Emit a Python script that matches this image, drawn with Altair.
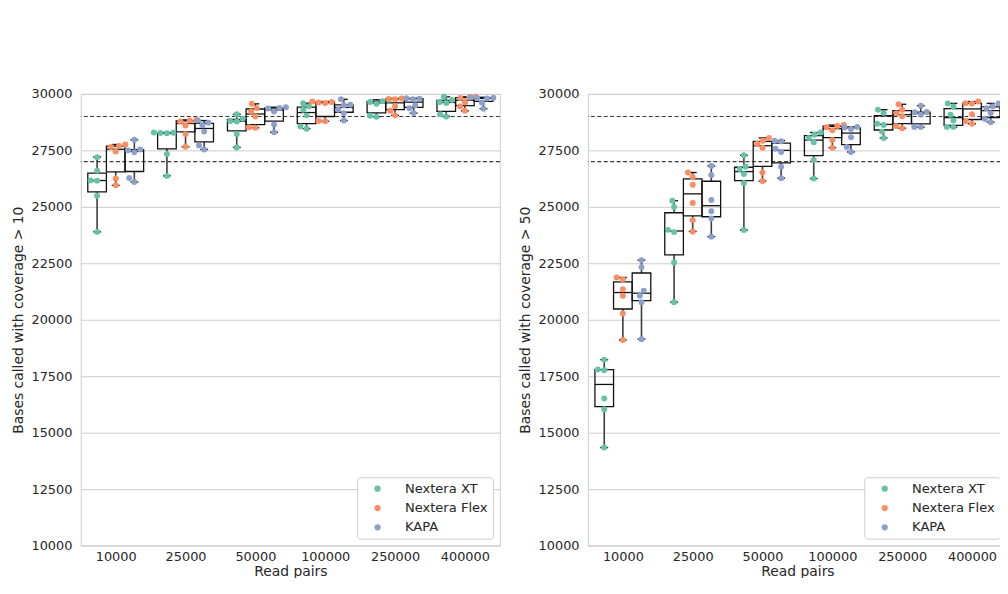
import altair as alt
import numpy as np
import pandas as pd

# ---------------- data ----------------
read_pairs = ["10000", "25000", "50000", "100000", "250000", "400000"]
kits = ["Nextera XT", "Nextera Flex", "KAPA"]
kit_colors = ["#66c2a5", "#fc8d62", "#8da0cb"]
y_ticks = [10000, 12500, 15000, 17500, 20000, 22500, 25000, 27500, 30000]
thresholds = [27000, 29000]

# Panel A: bases called with coverage > 10 (one list per read-pair level, 6 samples)
cov10_xt = [
    [27200, 26600, 26170, 26160, 25490, 23890],
    [28290, 28280, 28270, 28260, 27340, 26370],
    [29100, 28900, 28800, 28780, 28230, 27630],
    [29590, 29450, 29300, 29050, 28560, 28460],
    [29740, 29680, 29640, 29560, 29030, 28990],
    [29870, 29730, 29640, 29600, 29100, 29000],
]
cov10_flex = [
    [27760, 27700, 27650, 27450, 26250, 25950],
    [28850, 28820, 28780, 28600, 28220, 27660],
    [29560, 29370, 29220, 29000, 28520, 28500],
    [29660, 29640, 29620, 29600, 28800, 28790],
    [29800, 29780, 29760, 29450, 29250, 29050],
    [29870, 29840, 29820, 29620, 29440, 29250],
]
cov10_kapa = [
    [27970, 27540, 27500, 27420, 26280, 26100],
    [28820, 28720, 28610, 28330, 27720, 27540],
    [29410, 29380, 29350, 29220, 28650, 28300],
    [29760, 29520, 29500, 29300, 29150, 28820],
    [29810, 29790, 29770, 29500, 29370, 29150],
    [29850, 29830, 29820, 29800, 29620, 29340],
]
# Panel B: bases called with coverage > 50
cov50_xt = [
    [18230, 17800, 17760, 16510, 16035, 14340],
    [25270, 24990, 23980, 23880, 22540, 20780],
    [27280, 26780, 26670, 26450, 26060, 23970],
    [28290, 28190, 28050, 27860, 27070, 26250],
    [29300, 29150, 28680, 28620, 28330, 28050],
    [29580, 29440, 29080, 28820, 28540, 28530],
]
cov50_flex = [
    [21870, 21780, 21350, 21060, 20280, 19100],
    [26520, 26320, 25980, 25170, 24410, 23910],
    [28050, 27930, 27790, 27620, 26520, 26140],
    [28620, 28580, 28530, 28390, 27960, 27620],
    [29540, 29300, 29150, 29010, 28580, 28480],
    [29660, 29590, 29570, 29100, 28790, 28680],
]
cov50_kapa = [
    [22640, 22330, 21290, 21060, 20780, 19140],
    [26810, 26410, 25300, 24800, 24480, 23680],
    [27930, 27900, 27570, 27430, 26780, 26270],
    [28540, 28510, 28450, 28080, 27650, 27430],
    [29480, 29200, 29190, 29080, 28540, 28530],
    [29580, 29440, 29370, 29150, 28890, 28750],
]

# ---------------- layout constants ----------------
PW, PH = 423, 456
Y_MIN, Y_MAX = 10000, 30000
BOX_W = 0.8 / 3          # width of one hue box in category units
DOT = 6.6                # dot diameter (px) used for swarm layout
px_per_x = PW / len(read_pairs)
px_per_y = PH / (Y_MAX - Y_MIN)
CAP = 8 / px_per_x


def swarm_offsets(vals):
    """Beeswarm layout (like seaborn's swarmplot): returns x offsets in category units."""
    vals = np.asarray(vals, dtype=float)
    order = np.argsort(vals, kind="stable")
    placed = []
    offs = np.zeros(len(vals))
    for idx in order:
        y = vals[idx] * px_per_y
        cands = [0.0]
        for px, py in placed:
            dy = abs(py - y)
            if dy < DOT:
                dx = np.sqrt(DOT * DOT - dy * dy)
                cands += [px - dx, px + dx]
        cands.sort(key=abs)
        chosen = cands[-1]
        for c in cands:
            if all((c - px) ** 2 + (y - py) ** 2 >= DOT * DOT - 1e-6 for px, py in placed):
                chosen = c
                break
        placed.append((chosen, y))
        offs[idx] = chosen / px_per_x
    return offs


rows = []
for panel, series in [("A", [cov10_xt, cov10_flex, cov10_kapa]),
                      ("B", [cov50_xt, cov50_flex, cov50_kapa])]:
    for ki, (kit, per_cat) in enumerate(zip(kits, series)):
        for ci, vals in enumerate(per_cat):
            offs = swarm_offsets(vals)
            for v, o in zip(vals, offs):
                rows.append(dict(panel=panel, ci=ci, ki=ki, kit=kit, value=v,
                                 xs=ci + (ki - 1) * BOX_W + o))
df = pd.DataFrame(rows)
thr_df = pd.DataFrame({"t": thresholds})

label_expr = "[" + ",".join("'%s'" % s for s in read_pairs) + "][datum.value]"

FONT = "DejaVu Sans"
TXT = "#262626"


def make_panel(panel, ytitle):
    xsc = alt.Scale(domain=[-0.5, len(read_pairs) - 0.5], nice=False, zero=False)
    ysc = alt.Scale(domain=[Y_MIN, Y_MAX], nice=False, zero=False)
    xax = alt.Axis(title="Read pairs", values=list(range(len(read_pairs))),
                   labelExpr=label_expr, grid=False, ticks=False, tickSize=0,
                   domain=False, labelPadding=5, titlePadding=1,
                   labelFont=FONT, labelFontSize=13, labelColor=TXT,
                   titleFont=FONT, titleFontSize=14, titleFontWeight="normal",
                   titleColor=TXT)
    yax = alt.Axis(title=ytitle, values=y_ticks, format="d", grid=True,
                   ticks=False, tickSize=0, domain=False, labelPadding=9,
                   titlePadding=5.5, gridColor="#cccccc", gridWidth=1,
                   labelFont=FONT, labelFontSize=13, labelColor=TXT,
                   titleFont=FONT, titleFontSize=14, titleFontWeight="normal",
                   titleColor=TXT)

    def X(f):
        return alt.X(f, type="quantitative", scale=xsc, axis=xax)

    def Y(f):
        return alt.Y(f, type="quantitative", scale=ysc, axis=yax)

    src = alt.Chart(df).transform_filter(alt.datum.panel == panel)
    stats = src.transform_aggregate(
        vmin="min(value)", q1="q1(value)", med="median(value)",
        q3="q3(value)", vmax="max(value)", groupby=["ci", "ki"]
    ).transform_calculate(
        xc=f"datum.ci + (datum.ki - 1) * {BOX_W}",
    ).transform_calculate(
        xl=f"datum.xc - {BOX_W / 2}",
        xr=f"datum.xc + {BOX_W / 2}",
        cl=f"datum.xc - {CAP / 2}",
        cr=f"datum.xc + {CAP / 2}",
    )

    thr = alt.Chart(thr_df).mark_rule(
        color="#3a3a3a", strokeDash=[4, 2.5], strokeWidth=1.2
    ).encode(y=Y("t"))

    wlo = stats.mark_rule(color="#3d3d3d", strokeWidth=1.6).encode(
        x=X("xc"), y=Y("vmin"), y2="q1:Q")
    whi = stats.mark_rule(color="#3d3d3d", strokeWidth=1.6).encode(
        x=X("xc"), y=Y("q3"), y2="vmax:Q")
    clo = stats.mark_rule(color="#1a1a1a", strokeWidth=1.4).encode(
        x=X("cl"), x2="cr:Q", y=Y("vmin"))
    chi = stats.mark_rule(color="#1a1a1a", strokeWidth=1.4).encode(
        x=X("cl"), x2="cr:Q", y=Y("vmax"))
    box = stats.mark_rect(fillOpacity=0, stroke="#111111", strokeWidth=1.3).encode(
        x=X("xl"), x2="xr:Q", y=Y("q1"), y2="q3:Q")
    med = stats.mark_rule(color="#111111", strokeWidth=1.3).encode(
        x=X("xl"), x2="xr:Q", y=Y("med"))

    pts = src.mark_circle(size=36, opacity=1, strokeWidth=0).encode(
        x=X("xs"), y=Y("value"),
        color=alt.Color("kit:N", scale=alt.Scale(domain=kits, range=kit_colors),
                        legend=alt.Legend(
                            title=None, orient="bottom-right", offset=7,
                            padding=5, strokeColor="#cccccc", fillColor="white",
                            cornerRadius=3, labelFontSize=13.2, labelFont=FONT,
                            labelColor=TXT, symbolSize=40, symbolType="circle",
                            symbolStrokeWidth=0, rowPadding=5.5, labelOffset=21,
                            symbolOffset=9)),
    )

    return alt.layer(thr, wlo, whi, clo, chi, box, med, pts).properties(
        width=PW, height=PH)


left = make_panel("A", "Bases called with coverage > 10")
right = make_panel("B", "Bases called with coverage > 50")

chart = alt.hconcat(left, right, spacing=16).resolve_scale(
    color="independent"
).properties(
    padding={"left": 2.5, "top": 77, "right": -9, "bottom": -4},
    background="white",
).configure_view(
    stroke="#cccccc", strokeWidth=1
)

chart.save("out.html", embed_options={"renderer": "svg", "actions": False})
